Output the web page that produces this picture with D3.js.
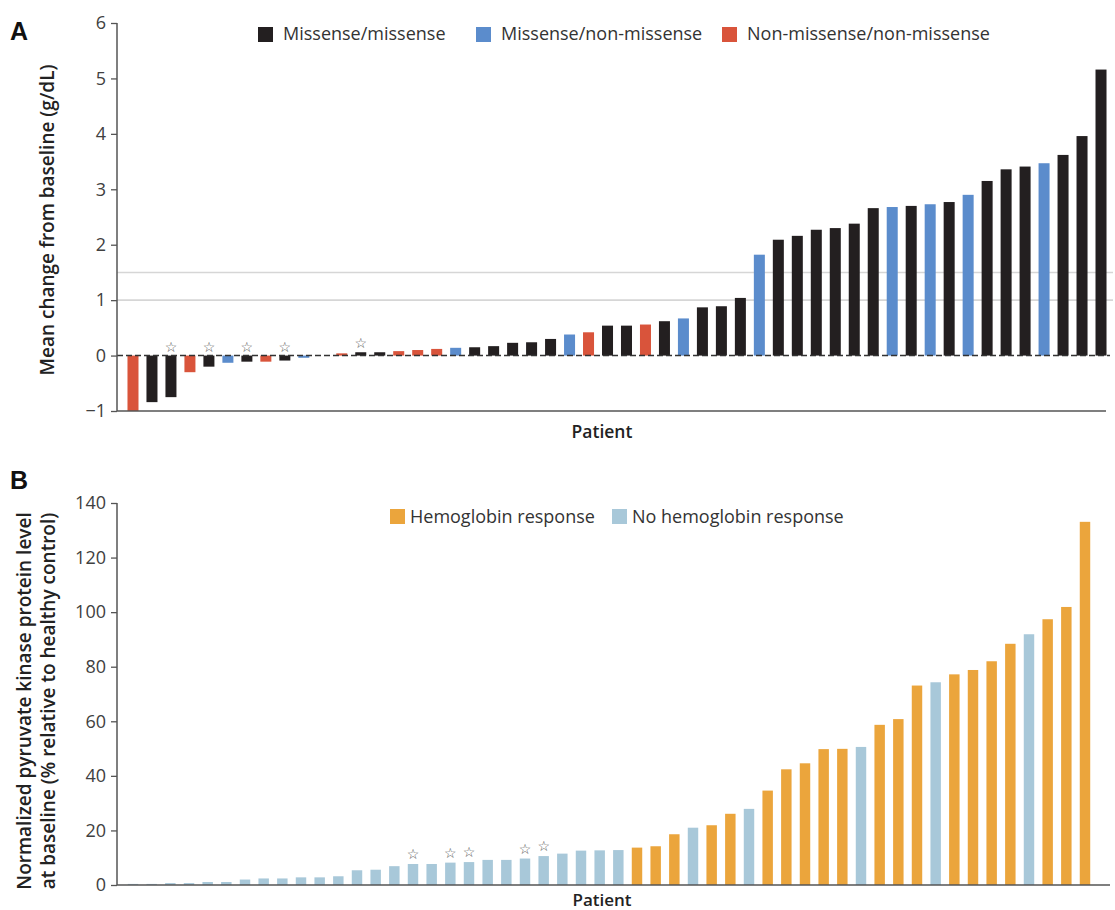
<!DOCTYPE html>
<html><head><meta charset="utf-8">
<script src="https://cdn.jsdelivr.net/npm/d3@7"></script>
<style>
html,body{margin:0;padding:0;background:#fff;}
svg{display:block;}
text{font-family:"Open Sans","Noto Sans",sans-serif;}
</style></head>
<body><svg id="c" width="1115" height="910"></svg>
<script>
// ---------- Panel A data ----------
const aGenotypeNames = ["Missense/missense","Missense/non-missense","Non-missense/non-missense"];
const aGenotypeColors = ["#231f20","#5b8ccc","#d9543b"];
// genotype code per patient: 0 = missense/missense, 1 = missense/non-missense, 2 = non-missense/non-missense
const aGenotype = [2,0,0,2,0,1,0,2,0,1, 0,2,0,0,2,2,2,1,0,0, 0,0,0,1,2,0,0,2,0,1, 0,0,0,1,0,0,0,0,0,0, 1,0,1,0,1,0,0,0,1,0, 0,0];
const aChange = [-1.0,-0.84,-0.75,-0.30,-0.20,-0.13,-0.11,-0.11,-0.09,-0.04,
  0.0,0.04,0.06,0.06,0.08,0.10,0.12,0.14,0.15,0.17,
  0.23,0.24,0.30,0.38,0.42,0.54,0.54,0.56,0.62,0.67,
  0.87,0.89,1.04,1.82,2.09,2.16,2.27,2.30,2.38,2.66,
  2.68,2.70,2.73,2.77,2.90,3.15,3.36,3.41,3.47,3.62,
  3.96,5.16];
const aStar = [2,4,6,8,12];
const aTicks = [-1,0,1,2,3,4,5,6];
const aRefLines = [1,1.5];

// ---------- Panel B data ----------
const bGroupNames = ["Hemoglobin response","No hemoglobin response"];
const bGroupColors = ["#eba53c","#a8c8d9"];
// 0 = hemoglobin response, 1 = no hemoglobin response
const bGroup = [1,1,1,1,1,1,1,1,1,1, 1,1,1,1,1,1,1,1,1,1, 1,1,1,1,1,1,1,0,0,0,
  1,0,0,1,0,0,0,0,0,1, 0,0,0,1,0,0,0,0,1,0, 0,0];
const bLevel = [0.4,0.4,0.7,0.7,1.1,1.1,2.0,2.4,2.4,2.8,
  2.8,3.2,5.4,5.6,6.9,7.7,7.7,8.2,8.4,9.2,
  9.2,9.7,10.6,11.5,12.6,12.7,12.8,13.7,14.2,18.6,
  21.0,21.9,26.1,27.9,34.6,42.4,44.6,49.8,49.9,50.6,
  58.7,60.8,73.1,74.3,77.2,78.8,82.0,88.4,91.9,97.4,
  101.9,133.1];
const bStar = [15,17,18,21,22];
const bTicks = [0,20,40,60,80,100,120,140];

const svg = d3.select("#c");
const axisCol = "#555";
const txtCol = "#404040";
const tickFont = 18;

// ================= Panel A =================
const xA = d3.scaleBand().domain(d3.range(aChange.length)).range([123.5,1110.5]).padding(0);
const yA = d3.scaleLinear().domain([-1,6]).range([411,23]);
const gA = svg.append("g");
const bwA = xA.bandwidth()*0.58;

gA.selectAll("line.ref").data(aRefLines).join("line")
  .attr("x1",117).attr("x2",1113)
  .attr("y1",d=>yA(d)).attr("y2",d=>yA(d))
  .attr("stroke","#d6d6d6").attr("stroke-width",1.6);

gA.selectAll("rect.bar").data(aChange).join("rect")
  .attr("x",(d,i)=>xA(i)+(xA.bandwidth()-bwA)/2)
  .attr("width",bwA)
  .attr("y",d=>d>=0?yA(d):yA(0))
  .attr("height",d=>Math.abs(yA(d)-yA(0)))
  .attr("fill",(d,i)=>aGenotypeColors[aGenotype[i]]);

gA.append("line").attr("x1",117).attr("x2",1110).attr("y1",yA(0)).attr("y2",yA(0))
  .attr("stroke","#333").attr("stroke-width",1.4).attr("stroke-dasharray","6,3");

gA.selectAll("text.star").data(aStar).join("text")
  .attr("x",i=>xA(i)+xA.bandwidth()/2)
  .attr("y",i=>Math.min(yA(0),yA(aChange[i]))-4)
  .attr("text-anchor","middle").attr("font-size",14).attr("fill","#555")
  .style("font-family","DejaVu Sans").text("☆");

const axA = d3.axisLeft(yA).tickValues(aTicks).tickSize(6).tickPadding(5)
  .tickFormat(d=>d<0?"\u2212"+Math.abs(d):d);
const gAx = gA.append("g").attr("transform","translate(117,0)").call(axA);
gAx.select(".domain").attr("stroke",axisCol).attr("stroke-width",1.5).attr("d","M0,23V411");
gAx.selectAll(".tick line").attr("stroke",axisCol).attr("stroke-width",1.3);
gAx.selectAll(".tick text").attr("font-size",tickFont).attr("fill",txtCol);
gA.append("line").attr("x1",117).attr("x2",1106).attr("y1",411).attr("y2",411)
  .attr("stroke",axisCol).attr("stroke-width",1.5);

gA.append("text").attr("x",602).attr("y",438).attr("text-anchor","middle")
  .attr("font-size",17.5).attr("font-weight",600).attr("fill","#222").text("Patient");
gA.append("text").attr("transform","translate(54,220) rotate(-90)").attr("text-anchor","middle")
  .attr("font-size",19).attr("font-weight",600).attr("fill","#222").text("Mean change from baseline (g/dL)");
gA.append("text").attr("x",10).attr("y",40).attr("font-size",25).attr("font-weight",700)
  .style("font-family","'Liberation Sans'").attr("fill","#111").text("A");

const legAx = [270,488,734];
const legA = gA.selectAll("g.leg").data(aGenotypeNames).join("g")
  .attr("transform",(d,i)=>`translate(${legAx[i]},0)`);
legA.append("rect").attr("x",-12).attr("y",27).attr("width",15).attr("height",15).attr("fill",(d,i)=>aGenotypeColors[i]);
legA.append("text").attr("x",13).attr("y",40).attr("font-size",18).attr("fill","#333").text(d=>d);

// ================= Panel B =================
const xB = d3.scaleBand().domain(d3.range(bLevel.length)).range([123.67,1094.33]).padding(0);
const yB = d3.scaleLinear().domain([0,140]).range([885,503]);
const gB = svg.append("g");
const bwB = xB.bandwidth()*0.56;

gB.selectAll("rect.bar").data(bLevel).join("rect")
  .attr("x",(d,i)=>xB(i)+(xB.bandwidth()-bwB)/2)
  .attr("width",bwB)
  .attr("y",d=>yB(d))
  .attr("height",d=>yB(0)-yB(d))
  .attr("fill",(d,i)=>bGroupColors[bGroup[i]]);

gB.selectAll("text.star").data(bStar).join("text")
  .attr("x",i=>xB(i)+xB.bandwidth()/2)
  .attr("y",i=>yB(bLevel[i])-5)
  .attr("text-anchor","middle").attr("font-size",14).attr("fill","#555")
  .style("font-family","DejaVu Sans").text("☆");

const axB = d3.axisLeft(yB).tickValues(bTicks).tickSize(6).tickPadding(5);
const gBx = gB.append("g").attr("transform","translate(117,0)").call(axB);
gBx.select(".domain").attr("stroke",axisCol).attr("stroke-width",1.5).attr("d","M0,503V885");
gBx.selectAll(".tick line").attr("stroke",axisCol).attr("stroke-width",1.3);
gBx.selectAll(".tick text").attr("font-size",tickFont).attr("fill",txtCol);
gB.append("line").attr("x1",117).attr("x2",1110).attr("y1",885).attr("y2",885)
  .attr("stroke",axisCol).attr("stroke-width",1.5);

gB.append("text").attr("x",602).attr("y",906).attr("text-anchor","middle")
  .attr("font-size",17).attr("font-weight",600).attr("fill","#222").text("Patient");
const yl = gB.append("text").attr("transform","translate(0,701) rotate(-90)").attr("text-anchor","middle")
  .attr("font-size",19).attr("font-weight",600).attr("fill","#222");
yl.append("tspan").attr("x",0).attr("y",31).text("Normalized pyruvate kinase protein level");
yl.append("tspan").attr("x",0).attr("y",55).text("at baseline (% relative to healthy control)");
gB.append("text").attr("x",10).attr("y",489).attr("font-size",25).attr("font-weight",700)
  .style("font-family","'Liberation Sans'").attr("fill","#111").text("B");

const legBx = [402,624];
const legB = gB.selectAll("g.leg").data(bGroupNames).join("g")
  .attr("transform",(d,i)=>`translate(${legBx[i]},0)`);
legB.append("rect").attr("x",-12).attr("y",509).attr("width",15).attr("height",15).attr("fill",(d,i)=>bGroupColors[i]);
legB.append("text").attr("x",8).attr("y",523).attr("font-size",18).attr("fill","#333").text(d=>d);
</script></body></html>
